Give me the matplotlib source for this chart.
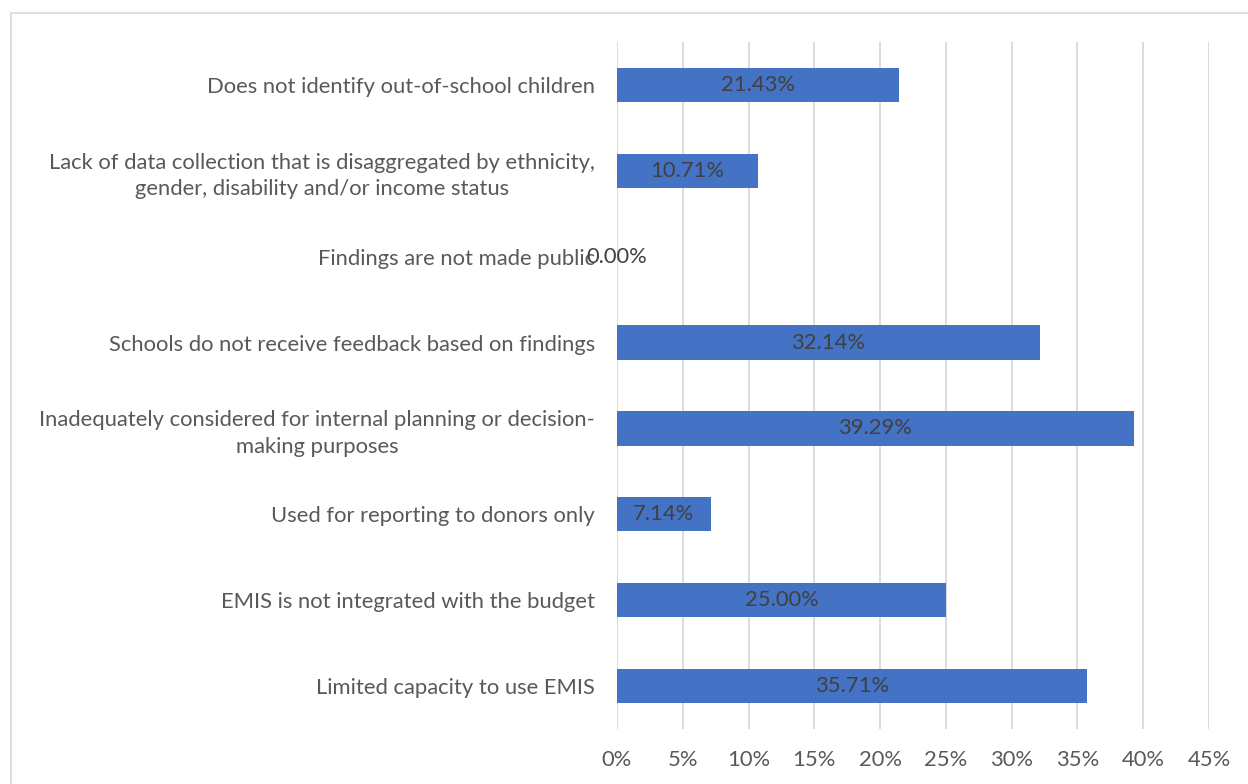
import numpy as np
import matplotlib.pyplot as plt
from matplotlib.patches import Rectangle

# survey answers, top to bottom as shown
categories = [
    "Does not identify out-of-school children",
    "Lack of data collection that is disaggregated by ethnicity,\ngender, disability and/or income status",
    "Findings are not made public",
    "Schools do not receive feedback based on findings",
    "Inadequately considered for internal planning or decision-\nmaking purposes",
    "Used for reporting to donors only",
    "EMIS is not integrated with the budget",
    "Limited capacity to use EMIS",
]
shares = [21.43, 10.71, 0.00, 32.14, 39.29, 7.14, 25.00, 35.71]
xticks = [0, 5, 10, 15, 20, 25, 30, 35, 40, 45]

BAR = '#4472C4'
GRID = '#D9D9D9'
TXT = '#595959'

plt.rcParams['font.family'] = ['Lato', 'DejaVu Sans']

fig = plt.figure(figsize=(12.48, 7.84), dpi=100)
ax = fig.add_axes([617 / 1248, 1 - 729 / 784, 592 / 1248, 687 / 784])

# chart area border (cropped on right and bottom)
fig.patches.append(Rectangle((11 / 1248, -0.05), 1.1, 1 - 13 / 784 + 0.05,
                             transform=fig.transFigure, fill=False,
                             edgecolor=GRID, linewidth=1.2))

y = np.arange(len(categories))
bars = ax.barh(y, shares, height=0.4, color=BAR, zorder=3)

for yi, v in zip(y, shares):
    ax.text(v / 2, yi, f"{v:.2f}%", ha='center', va='center',
            fontsize=15.8, color='#404040', zorder=4)

ax.set_xlim(0, 45)
ax.set_ylim(len(categories) - 0.5, -0.5)
ax.set_xticks(xticks)
ax.set_xticklabels([f"{t}%" for t in xticks])
ax.set_yticks(y)
ax.set_yticklabels(categories, multialignment='center', linespacing=1.4)

ax.grid(axis='x', color=GRID, linewidth=1.3, zorder=0)
ax.tick_params(axis='both', length=0, labelsize=15.8, labelcolor=TXT)
ax.tick_params(axis='x', pad=15)
ax.tick_params(axis='y', pad=16)
for s in ax.spines.values():
    s.set_visible(False)

fig.savefig('out.png', dpi=100)
